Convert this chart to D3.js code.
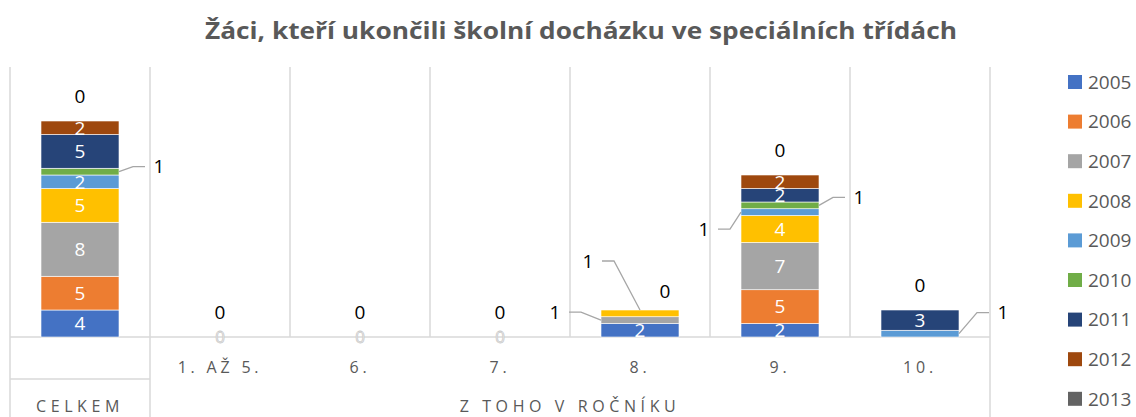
<!DOCTYPE html>
<html>
<head>
<meta charset="utf-8">
<script src="https://cdn.jsdelivr.net/npm/d3@7"></script>
<style>
  body { margin: 0; background: #fff; }
  text { font-family: "Open Sans", "Noto Sans", sans-serif; }
</style>
</head>
<body>
<svg width="1136" height="417"></svg>
<script>
let categories = ['CELKEM', '1. AŽ 5.', '6.', '7.', '8.', '9.', '10.'];
let groupLabels = ['CELKEM', 'Z TOHO V ROČNÍKU'];
let years = ['2005', '2006', '2007', '2008', '2009', '2010', '2011', '2012', '2013'];

let v2005 = [4, 0, 0, 0, 2, 2, 0];
let v2006 = [5, 0, 0, 0, 0, 5, 0];
let v2007 = [8, 0, 0, 0, 1, 7, 0];
let v2008 = [5, 0, 0, 0, 1, 4, 0];
let v2009 = [2, 0, 0, 0, 0, 1, 1];
let v2010 = [1, 0, 0, 0, 0, 1, 0];
let v2011 = [5, 0, 0, 0, 0, 2, 3];
let v2012 = [2, 0, 0, 0, 0, 2, 0];
let v2013 = [0, 0, 0, 0, 0, 0, 0];

let colors = ['#4472C4', '#ED7D31', '#A5A5A5', '#FFC000', '#5B9BD5',
              '#70AD47', '#264478', '#9E480E', '#636363'];

// labels for the small segments, moved out with a leader line
let leaders = [
  { cat: 'CELKEM', year: '2010', side: 'right', dx: 40, dy: -5 },
  { cat: '8.', year: '2007', side: 'left', dx: -46, dy: -8 },
  { cat: '8.', year: '2008', side: 'top', dx: -52, dy: -49 },
  { cat: '9.', year: '2009', side: 'left', dx: -37, dy: 17 },
  { cat: '9.', year: '2010', side: 'right', dx: 40, dy: -8 },
  { cat: '10.', year: '2009', side: 'right', dx: 44, dy: -21 }
];

let series = [v2005, v2006, v2007, v2008, v2009, v2010, v2011, v2012, v2013];

let table = categories.map(function(c, i) {
  let row = { cat: c };
  years.forEach(function(y, j) { row[y] = series[j][i]; });
  return row;
});

let svg = d3.select('svg');
let plotLeft = 10, plotRight = 990, plotTop = 67, plotBottom = 337;

let x = d3.scaleBand().domain(categories).range([plotLeft, plotRight]).paddingInner(0).paddingOuter(0);
let y = d3.scaleLinear().domain([0, 40]).range([plotBottom, plotTop]);
let color = d3.scaleOrdinal().domain(years).range(colors);
let barW = 78;

let stacked = d3.stack().keys(years)(table);

// title
svg.append('text')
  .attr('x', 581)
  .attr('y', 39)
  .attr('text-anchor', 'middle')
  .attr('font-size', 23)
  .attr('font-weight', 'bold')
  .attr('fill', '#595959')
  .attr('textLength', 752)
  .attr('lengthAdjust', 'spacingAndGlyphs')
  .text('Žáci, kteří ukončili školní docházku ve speciálních třídách');

// vertical grid lines
let grid = svg.append('g').attr('stroke', '#d9d9d9').attr('stroke-width', 1.5);
let edges = categories.map(function(c) { return x(c); }).concat([plotRight]);
grid.selectAll('line')
  .data(edges)
  .join('line')
  .attr('x1', function(d) { return d; })
  .attr('x2', function(d) { return d; })
  .attr('y1', plotTop)
  .attr('y2', function(d, i) {
    return (i === 0 || i === 1 || i === edges.length - 1) ? 417 : plotBottom;
  });

grid.append('line').attr('x1', plotLeft).attr('x2', plotRight).attr('y1', plotBottom).attr('y2', plotBottom);
grid.append('line').attr('x1', plotLeft).attr('x2', x('1. AŽ 5.')).attr('y1', 379).attr('y2', 379);

// bars
let chart = svg.append('g');
chart.selectAll('g.series')
  .data(stacked)
  .join('g')
  .attr('class', 'series')
  .attr('fill', function(d) { return color(d.key); })
  .selectAll('rect')
  .data(function(d) { return d; })
  .join('rect')
  .attr('x', function(d) { return x(d.data.cat) + (x.bandwidth() - barW) / 2; })
  .attr('y', function(d) { return y(d[1]); })
  .attr('width', barW)
  .attr('height', function(d) { return y(d[0]) - y(d[1]); })
  .attr('stroke', '#fff')
  .attr('stroke-width', function(d) { return d[1] > d[0] ? 0.6 : 0; });

// white labels inside the segments
let inside = [];
stacked.forEach(function(s) {
  s.forEach(function(d) {
    let v = d[1] - d[0];
    if (v >= 2) inside.push({ cat: d.data.cat, v: v, mid: (d[0] + d[1]) / 2 });
  });
});
chart.selectAll('text.inside')
  .data(inside)
  .join('text')
  .attr('class', 'inside')
  .attr('x', function(d) { return x(d.cat) + x.bandwidth() / 2; })
  .attr('y', function(d) { return y(d.mid); })
  .attr('dy', '0.36em')
  .attr('text-anchor', 'middle')
  .attr('font-size', 19)
  .attr('fill', '#fff')
  .text(function(d) { return d.v; });

// ghost zero labels on the baseline of empty categories
let totals = table.map(function(r) { return d3.sum(years, function(k) { return r[k]; }); });
chart.selectAll('text.ghost')
  .data(table.filter(function(r, i) { return totals[i] === 0; }))
  .join('text')
  .attr('class', 'ghost')
  .attr('x', function(d) { return x(d.cat) + x.bandwidth() / 2; })
  .attr('y', plotBottom)
  .attr('dy', '0.36em')
  .attr('text-anchor', 'middle')
  .attr('font-size', 17)
  .attr('fill', '#fff')
  .attr('stroke', '#c8c8c8')
  .attr('stroke-width', 0.8)
  .text('0');

// 2013 labels above the stacks
let last = stacked[stacked.length - 1];
chart.selectAll('text.top')
  .data(last)
  .join('text')
  .attr('class', 'top')
  .attr('x', function(d) { return x(d.data.cat) + x.bandwidth() / 2 + (d.data.cat === '8.' ? 25 : 0); })
  .attr('y', function(d) { return y(d[1]) - (d.data.cat === '8.' ? 19 : 25); })
  .attr('dy', '0.36em')
  .attr('text-anchor', 'middle')
  .attr('font-size', 19)
  .attr('fill', '#000')
  .text(function(d) { return d[1] - d[0]; });

// leader labels
leaders.forEach(function(l) {
  let s = stacked[years.indexOf(l.year)];
  let d = s[categories.indexOf(l.cat)];
  let bx = x(l.cat) + (x.bandwidth() - barW) / 2;
  let ax, ay;
  if (l.side === 'right') { ax = bx + barW; ay = y((d[0] + d[1]) / 2); }
  else if (l.side === 'left') { ax = bx; ay = y((d[0] + d[1]) / 2); }
  else { ax = bx + barW / 2; ay = y(d[1]); }
  let lx = ax + l.dx, ly = ay + l.dy;
  let sign = l.dx > 0 ? -1 : 1;
  chart.append('polyline')
    .attr('points', [[ax, ay], [lx + sign * 26, ly], [lx + sign * 14, ly]].join(' '))
    .attr('fill', 'none')
    .attr('stroke', '#a6a6a6')
    .attr('stroke-width', 1.3);
  chart.append('text')
    .attr('x', lx)
    .attr('y', ly)
    .attr('dy', '0.36em')
    .attr('text-anchor', 'middle')
    .attr('font-size', 19)
    .attr('fill', '#000')
    .text(d[1] - d[0]);
});

// category labels
svg.append('g')
  .selectAll('text')
  .data(categories.slice(1))
  .join('text')
  .attr('x', function(d) { return x(d) + x.bandwidth() / 2; })
  .attr('y', 373)
  .attr('text-anchor', 'middle')
  .attr('font-size', 16)
  .attr('letter-spacing', 3.8)
  .attr('fill', '#595959')
  .text(function(d) { return d; });

svg.append('g')
  .selectAll('text')
  .data(groupLabels)
  .join('text')
  .attr('x', function(d, i) {
    return i === 0 ? x('CELKEM') + x.bandwidth() / 2 : (x('1. AŽ 5.') + plotRight) / 2;
  })
  .attr('y', 412)
  .attr('text-anchor', 'middle')
  .attr('font-size', 16)
  .attr('letter-spacing', 4.6)
  .attr('fill', '#595959')
  .text(function(d) { return d; });

// legend
let legend = svg.append('g')
  .selectAll('g')
  .data(years)
  .join('g')
  .attr('transform', function(d, i) { return 'translate(1068,' + (82 + i * 39.6) + ')'; });
legend.append('rect')
  .attr('y', -7)
  .attr('width', 14)
  .attr('height', 14)
  .attr('fill', function(d) { return color(d); });
legend.append('text')
  .attr('x', 20)
  .attr('dy', '0.36em')
  .attr('font-size', 19)
  .attr('fill', '#595959')
  .text(function(d) { return d; });
</script>
</body>
</html>
